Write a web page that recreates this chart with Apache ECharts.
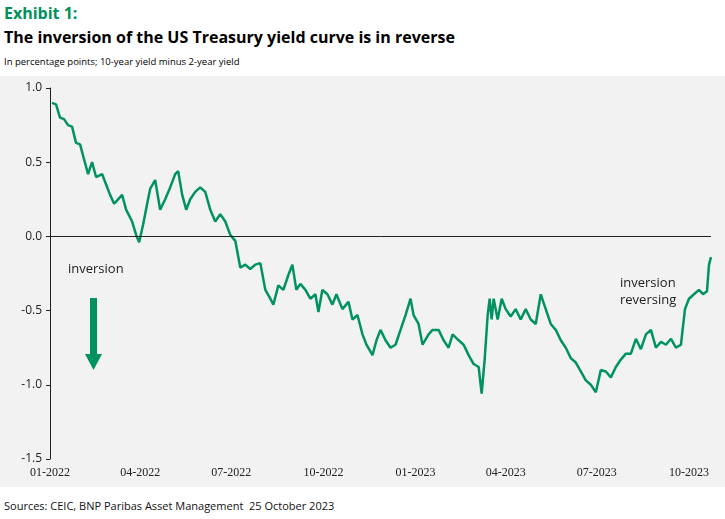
<!DOCTYPE html>
<html><head><meta charset="utf-8">
<script src="https://cdn.jsdelivr.net/npm/echarts@6/dist/echarts.min.js"></script>
<style>
body{margin:0;background:#fff;font-family:"Open Sans",sans-serif}
#head{position:absolute;left:4px;top:0}
#chart{position:absolute;left:0;top:76px;width:725px;height:411px;background:#f2f2f2}
#src{position:absolute;left:4px;top:498px;font-size:11px;color:#111}
</style></head><body>
<div id="head">
<div style="color:#00915a;font-weight:bold;font-size:16px;margin-top:2px">Exhibit 1:</div>
<div style="font-weight:bold;font-size:16px;margin-top:2px">The inversion of the US Treasury yield curve is in reverse</div>
<div style="font-size:9.5px;margin-top:7px">In percentage points; 10-year yield minus 2-year yield</div>
</div>
<div id="chart"></div>
<div id="src">Sources: CEIC, BNP Paribas Asset Management&nbsp; 25 October 2023</div>
<script>
// days since 2022-01-01 and spread (pp)
const dayOffsets = [2,6,10,14,18,22,26,30,34,38,42,46,52,56,60,64,68,72,76,82,86,89,93,97,100,105,110,115,120,125,128,132,136,140,145,150,155,160,165,170,175,180,185,190,195,200,205,210,215,220,223,228,233,238,242,246,250,255,260,265,268,272,277,282,286,292,298,302,307,312,316,322,326,330,335,340,345,350,355,360,363,368,372,378,382,388,393,398,402,408,413,418,423,428,431,434,437,439,441,443,447,451,455,460,465,470,475,480,485,490,495,500,505,510,515,520,525,530,535,540,545,550,555,560,565,570,575,580,585,590,595,600,605,610,615,620,625,630,634,638,643,648,652,656,658,660];
const spread = [0.90,0.89,0.80,0.79,0.75,0.74,0.63,0.62,0.52,0.42,0.50,0.40,0.42,0.35,0.28,0.22,0.25,0.28,0.18,0.10,0.01,-0.04,0.08,0.22,0.32,0.38,0.18,0.25,0.33,0.42,0.44,0.28,0.18,0.25,0.30,0.33,0.30,0.18,0.10,0.15,0.10,0.01,-0.03,-0.21,-0.19,-0.22,-0.19,-0.18,-0.36,-0.42,-0.46,-0.33,-0.36,-0.26,-0.19,-0.36,-0.32,-0.36,-0.42,-0.39,-0.51,-0.36,-0.39,-0.46,-0.39,-0.49,-0.44,-0.56,-0.53,-0.66,-0.73,-0.80,-0.70,-0.63,-0.70,-0.75,-0.73,-0.63,-0.53,-0.42,-0.53,-0.59,-0.73,-0.66,-0.63,-0.63,-0.70,-0.75,-0.66,-0.70,-0.73,-0.80,-0.86,-0.88,-1.06,-0.83,-0.53,-0.42,-0.56,-0.42,-0.56,-0.42,-0.49,-0.54,-0.49,-0.56,-0.49,-0.56,-0.59,-0.39,-0.49,-0.59,-0.63,-0.70,-0.75,-0.82,-0.85,-0.91,-0.97,-1.00,-1.05,-0.90,-0.91,-0.95,-0.88,-0.83,-0.79,-0.79,-0.69,-0.76,-0.66,-0.63,-0.75,-0.71,-0.73,-0.69,-0.75,-0.73,-0.49,-0.42,-0.39,-0.36,-0.39,-0.37,-0.19,-0.14];
const yTicks = [-1.5,-1.0,-0.5,0.0,0.5,1.0];
const quarterLabels = ['2022-01-01','2022-04-01','2022-07-01','2022-10-01','2023-01-01','2023-04-01','2023-07-01','2023-10-01'];

const start = Date.UTC(2022,0,1);
const pts = dayOffsets.map((d,i) => [d, spread[i]]);
const qDays = quarterLabels.map(s => Math.round((Date.parse(s + 'T00:00:00Z') - start) / 864e5));
const green = '#00935f';

const chart = echarts.init(document.getElementById('chart'));
chart.setOption({
  animation:false,
  textStyle:{fontFamily:'Open Sans'},
  grid:{left:50,right:14,top:12,bottom:28},
  xAxis:{type:'value',min:0,max:660,
    axisLine:{show:false},axisTick:{show:false},splitLine:{show:false},
    axisLabel:{customValues:qDays,color:'#222',fontSize:12,fontFamily:'Liberation Sans Narrow',
      margin:8,showMaxLabel:true,
      formatter:v=>{const d=new Date(start+v*864e5);return String(d.getUTCMonth()+1).padStart(2,'0')+'-'+d.getUTCFullYear();}}},
  yAxis:{type:'value',min:-1.5,max:1.0,interval:0.5,
    axisLine:{show:true,lineStyle:{color:'#222'}},axisTick:{show:true,inside:false,length:4,lineStyle:{color:'#222'}},
    splitLine:{show:false},
    axisLabel:{color:'#222',fontSize:12,formatter:v=>v.toFixed(1)}},
  series:[{type:'line',data:pts,showSymbol:false,lineStyle:{color:green,width:2.5},
    markLine:{silent:true,symbol:'none',label:{show:false},lineStyle:{color:'#222',width:1,type:'solid'},data:[{yAxis:yTicks[3]}]}}],
  graphic:[
    {type:'text',left:68,top:187,style:{text:'inversion',fontSize:13,fill:'#222',fontFamily:'Open Sans'}},
    {type:'rect',shape:{x:90,y:222,width:7,height:58},style:{fill:green}},
    {type:'polygon',shape:{points:[[85,278],[102,278],[93.5,294]]},style:{fill:green}},
    {type:'text',left:620,top:199,style:{text:'inversion\nreversing',fontSize:13,lineHeight:17,fill:'#222',fontFamily:'Open Sans'}}
  ]
});
</script></body></html>
